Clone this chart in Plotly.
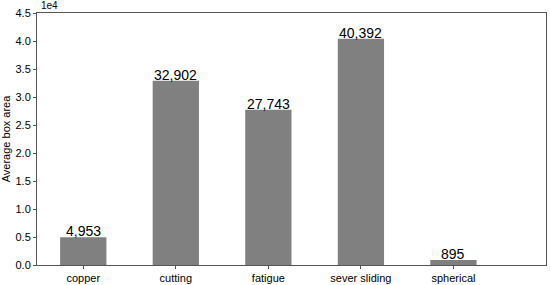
import plotly.graph_objects as go

categories = ["copper", "cutting", "fatigue", "sever sliding", "spherical"]
values = [4953, 32902, 27743, 40392, 895]
ytick_vals = [0, 5000, 10000, 15000, 20000, 25000, 30000, 35000, 40000, 45000]
ytick_text = ["0.0", "0.5", "1.0", "1.5", "2.0", "2.5", "3.0", "3.5", "4.0", "4.5"]

FONT = "Liberation Sans, Arial, sans-serif"
fig = go.Figure()
fig.add_trace(go.Bar(x=list(range(len(categories))), y=values, width=0.5,
                     marker=dict(color="#808080", line=dict(width=0))))

for i, v in enumerate(values):
    fig.add_annotation(x=i, y=v, text=f"{v:,}", showarrow=False, xref="x", yref="y",
                       yanchor="bottom", yshift=-4,
                       font=dict(family=FONT, size=14, color="#000"))

fig.add_annotation(x=0, y=1, xref="paper", yref="paper", text="1e4", showarrow=False,
                   xanchor="left", yanchor="bottom", yshift=0, xshift=2,
                   font=dict(family=FONT, size=10, color="#000"))

axis_common = dict(showline=True, linecolor="#555", linewidth=1, mirror=True,
                   ticks="outside", ticklen=3, tickcolor="#555", showgrid=False,
                   zeroline=False, tickfont=dict(family=FONT, size=11, color="#000"))
fig.update_xaxes(range=[-0.5, 5.0], tickvals=list(range(len(categories))),
                 ticktext=categories, **axis_common)
fig.update_yaxes(range=[0, 45000], tickvals=ytick_vals, ticktext=ytick_text,
                 title=dict(text="Average box area", font=dict(family=FONT, size=11, color="#000"),
                            standoff=4),
                 **axis_common)
fig.update_layout(width=550, height=285, margin=dict(l=37, r=4, t=13, b=20, autoexpand=False),
                  plot_bgcolor="white", paper_bgcolor="white", showlegend=False,
                  font=dict(family=FONT))
fig.write_html("out.html", config={"displayModeBar": False},
               post_script="document.body.style.margin='0';")
